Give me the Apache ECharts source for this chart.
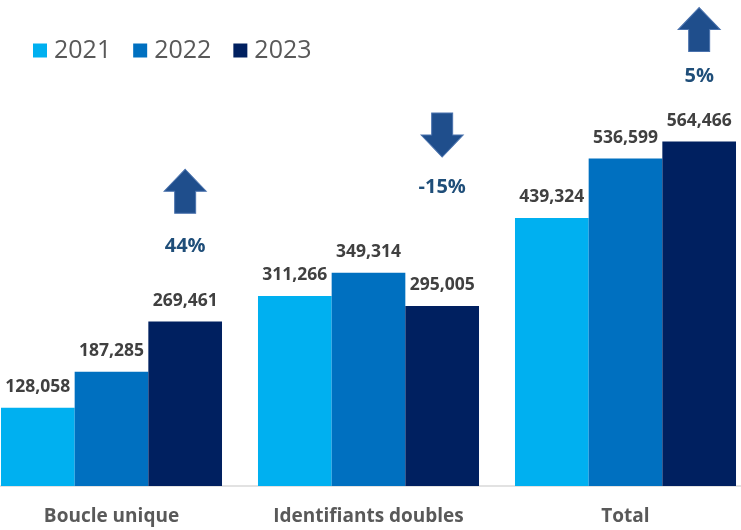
<!DOCTYPE html>
<html>
<head>
<meta charset="utf-8">
<script src="https://cdn.jsdelivr.net/npm/echarts@6/dist/echarts.min.js"></script>
<style>html,body{margin:0;padding:0;background:#fff;overflow:hidden;width:741px;height:530px;}#c{position:absolute;left:-17px;top:0;width:771px;height:530px;}</style>
</head>
<body>
<div id="c"></div>
<script>
const categories = ['Boucle unique', 'Identifiants doubles', 'Total'];
const seriesNames = ['2021', '2022', '2023'];
const values2021 = [128058, 311266, 439324];
const values2022 = [187285, 349314, 536599];
const values2023 = [269461, 295005, 564466];
const changeLabels = ['44%', '-15%', '5%'];
const changeDirection = ['up', 'down', 'up'];
const arrowLevels = [483000, 575000, 748000];
const changeLabelLevels = [392000, 490000, 672000];
const colors = ['#00B0F0', '#0070C0', '#002060'];

const upArrow = 'path://M10,0 L20,10 L15,10 L15,20 L5,20 L5,10 L0,10 Z';
const downArrow = 'path://M5,0 L15,0 L15,10 L20,10 L10,20 L0,10 L5,10 Z';

const markData = [];
categories.forEach((c, i) => {
  markData.push({
    coord: [c, arrowLevels[i]],
    symbol: changeDirection[i] === 'up' ? upArrow : downArrow,
    symbolSize: [42, 44],
    itemStyle: { color: '#1F4E8C', borderColor: '#4A72AD', borderWidth: 1 },
    label: { show: false }
  });
  markData.push({
    coord: [c, changeLabelLevels[i]],
    symbol: 'rect',
    symbolSize: 1,
    itemStyle: { color: 'rgba(0,0,0,0)' },
    label: {
      show: true, position: 'inside', formatter: changeLabels[i],
      color: '#1F4E79', fontSize: 20, fontWeight: 'bold', fontFamily: 'Open Sans'
    }
  });
});

const labelStyle = {
  show: true, position: 'top', distance: 12,
  color: '#404040', fontSize: 17.5, fontWeight: 'bold', fontFamily: 'Open Sans',
  formatter: p => p.value.toLocaleString('en-US')
};

const chart = echarts.init(document.getElementById('c'), null, { renderer: 'canvas' });
chart.setOption({
  animation: false,
  color: colors,
  legend: {
    left: 45, top: 33,
    itemWidth: 14, itemHeight: 14, itemGap: 22,
    icon: 'rect',
    textStyle: { color: '#595959', fontSize: 25, fontFamily: 'Open Sans', padding: [0, 0, 0, 2] },
    data: seriesNames
  },
  grid: { left: 0, right: 0, top: 10, height: 476, containLabel: false },
  xAxis: {
    type: 'category', data: categories,
    axisLine: { lineStyle: { color: '#D9D9D9', width: 1.5 } },
    axisTick: { show: false },
    axisLabel: { color: '#595959', fontSize: 19, fontWeight: 'bold', fontFamily: 'Open Sans', margin: 21 }
  },
  yAxis: {
    type: 'value', min: 0, max: 780000, show: false,
    splitLine: { show: false }
  },
  series: [
    { name: seriesNames[0], type: 'bar', data: values2021, barGap: '0%', barCategoryGap: '14%', label: labelStyle },
    { name: seriesNames[1], type: 'bar', data: values2022, barGap: '0%', barCategoryGap: '14%', label: labelStyle },
    { name: seriesNames[2], type: 'bar', data: values2023, barGap: '0%', barCategoryGap: '14%', label: labelStyle,
      markPoint: { data: markData, silent: true } }
  ]
});
</script>
</body>
</html>
